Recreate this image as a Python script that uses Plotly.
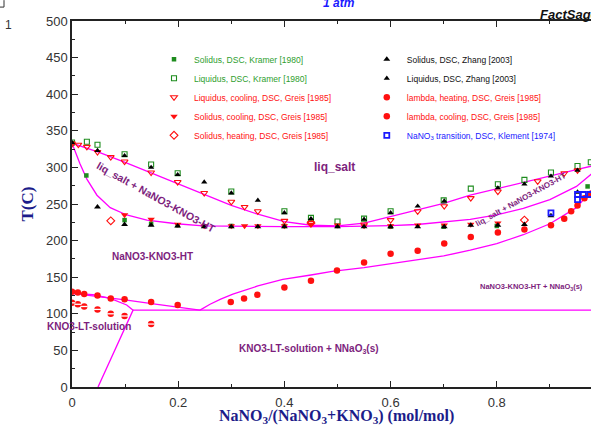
import plotly.graph_objects as go

# ---------------- data ----------------
# calculated phase boundaries (magenta lines)
liquidus_x = [0.0, 0.05, 0.1, 0.15, 0.2, 0.25, 0.3, 0.35, 0.4, 0.45, 0.5, 0.55, 0.6, 0.65, 0.7, 0.75, 0.8, 0.85, 0.9, 0.95, 0.98]
liquidus_T = [333, 321, 307, 292, 277, 262, 248, 236, 226, 221, 220, 224, 233, 242, 251, 262, 271, 280, 289, 297, 302]

solidus_x = [0.0, 0.015, 0.028, 0.047, 0.072, 0.103, 0.141, 0.197, 0.247, 0.3, 0.4, 0.5, 0.55, 0.6, 0.65, 0.7, 0.75, 0.8, 0.85, 0.9, 0.95, 0.98]
solidus_T = [333, 305, 284, 262, 245, 235, 228, 223, 220, 219.5, 219, 219, 219.5, 220.5, 222, 225, 229, 235, 244, 256, 274, 292]

solvus_x = [0.241, 0.26, 0.28, 0.303, 0.35, 0.397, 0.45, 0.49, 0.55, 0.6, 0.65, 0.7, 0.75, 0.8, 0.85, 0.9, 0.95, 0.98]
solvus_T = [105, 113, 120, 127, 138, 147, 153, 158, 163, 168, 173, 179, 187, 196, 208, 223, 245, 270]

kno3_ht_x = [0.0, 0.05, 0.1, 0.15, 0.2, 0.241]
kno3_ht_T = [128, 124, 119, 114, 109, 105]

kno3_lt_x = [0.0, 0.04, 0.072, 0.103, 0.115, 0.049]
kno3_lt_T = [128, 126, 121, 112, 105, 0]

eutectoid_x = [0.115, 0.98]
eutectoid_T = [105, 105]

# experimental points
kramer_sol_x = [0.0, 0.027, 0.099, 0.149, 0.199, 0.3, 0.4, 0.5, 0.6, 0.7, 0.8, 0.971]
kramer_sol_T = [333, 289, 228, 223, 221, 220, 220, 220, 219, 219, 220, 274]

kramer_liq_x = [0.0, 0.028, 0.048, 0.099, 0.149, 0.199, 0.3, 0.4, 0.45, 0.5, 0.55, 0.6, 0.7, 0.751, 0.802, 0.852, 0.902, 0.952, 0.977]
kramer_liq_T = [334, 335, 331, 318, 304, 292, 267, 240, 231, 226, 230, 240, 255, 271, 277, 283, 293, 302, 307]

greis_liq_cool_x = [0.0, 0.012, 0.028, 0.048, 0.073, 0.099, 0.149, 0.199, 0.249, 0.3, 0.325, 0.35, 0.4, 0.45, 0.55, 0.6, 0.651, 0.701, 0.751, 0.802, 0.877, 0.927, 0.952]
greis_liq_cool_T = [332, 331, 328, 321, 314, 308, 293, 280, 265, 253, 246, 240, 227, 224, 222, 228, 240, 247, 258, 267, 281, 292, 296]

greis_sol_cool_x = [0.0, 0.099, 0.149, 0.199, 0.249, 0.3, 0.325, 0.35, 0.4, 0.45, 0.5, 0.55, 0.6, 0.651, 0.701, 0.751, 0.802]
greis_sol_cool_T = [333, 235, 229, 222, 220, 220, 220, 220, 220, 222, 221, 220, 220, 221, 221, 222, 224]

greis_sol_heat_x = [0.073, 0.45, 0.852]
greis_sol_heat_T = [227, 224, 228]

zhang_sol_x = [0.048, 0.099, 0.149, 0.199, 0.249, 0.3, 0.35, 0.4, 0.5, 0.55, 0.6, 0.651, 0.701, 0.751, 0.802, 0.852, 0.902, 0.952]
zhang_sol_T = [246, 222, 221, 220, 219, 219, 219, 219, 219, 219, 219, 219, 219, 221, 221, 222, 234, 266]

zhang_liq_x = [0.0, 0.048, 0.099, 0.149, 0.199, 0.249, 0.3, 0.35, 0.4, 0.45, 0.55, 0.6, 0.651, 0.701, 0.802, 0.852, 0.902, 0.952]
zhang_liq_T = [334, 323, 316, 300, 290, 280, 265, 255, 238, 230, 229, 238, 247, 254, 272, 277, 288, 296]

lambda_heat_x = [0.0, 0.011, 0.023, 0.048, 0.073, 0.099, 0.149, 0.199, 0.299, 0.324, 0.349, 0.4, 0.45, 0.499, 0.55, 0.6, 0.651, 0.701, 0.751, 0.802, 0.852, 0.902, 0.927, 0.94, 0.952, 0.965, 0.977]
lambda_heat_T = [130, 129, 127, 125, 121, 120, 116, 112, 116, 121, 126, 136, 145, 159, 170, 182, 186, 196, 205, 211, 215, 221, 230, 240, 248, 258, 264]

lambda_cool_x = [0.0, 0.011, 0.023, 0.048, 0.073, 0.099, 0.149]
lambda_cool_T = [115, 113, 110, 106, 100, 97, 86]

klement_x = [0.902, 0.952, 0.952, 0.963, 0.975]
klement_T = [238, 256, 263, 263, 263]

x_ticks = [0, 0.2, 0.4, 0.6, 0.8]
x_tick_labels = ["0", "0.2", "0.4", "0.6", "0.8"]

# ---------------- figure ----------------
MAG = "#ff00ff"
GREEN = "#1e8c1e"
GREEN_T = "#2e9e2e"
RED = "#ff1010"
BLUE = "#1a1aff"
PURPLE = "#7d1e7d"
NAVY = "#1c1c8a"

fig = go.Figure()

for lx, ly in [(liquidus_x, liquidus_T), (solidus_x, solidus_T), (solvus_x, solvus_T),
               (kno3_ht_x, kno3_ht_T), (kno3_lt_x, kno3_lt_T), (eutectoid_x, eutectoid_T)]:
    fig.add_trace(go.Scatter(x=lx, y=ly, mode="lines", line=dict(color=MAG, width=1.3),
                             showlegend=False, hoverinfo="skip"))


def lbl(text, color):
    return "<span style='color:%s'>%s</span>" % (color, text)


def pts(x, y, name, symbol, color, size, legend, lw=1.1, lcolor=None, showlegend=True):
    fig.add_trace(go.Scatter(
        x=x, y=y, mode="markers", name=name, legend=legend, showlegend=showlegend,
        marker=dict(symbol=symbol, color=color, size=size,
                    line=dict(color=lcolor or color, width=lw))))


pts(kramer_sol_x, kramer_sol_T, lbl("Solidus, DSC, Kramer [1980]", GREEN_T), "square", GREEN, 4.5, "legend", lw=0)
pts(kramer_liq_x, kramer_liq_T, lbl("Liquidus, DSC, Kramer [1980]", GREEN_T), "square-open", GREEN, 5, "legend")
pts(greis_liq_cool_x, greis_liq_cool_T, lbl("Liquidus, cooling, DSC, Greis [1985]", RED), "triangle-down-open", RED, 6, "legend")
pts(greis_sol_cool_x, greis_sol_cool_T, lbl("Solidus, cooling, DSC, Greis [1985]", RED), "triangle-down", RED, 6.5, "legend", lw=0)
pts(greis_sol_heat_x, greis_sol_heat_T, lbl("Solidus, heating, DSC, Greis [1985]", RED), "diamond-open", RED, 6, "legend")

pts(zhang_sol_x, zhang_sol_T, lbl("Solidus, DSC, Zhang [2003]", "#111"), "triangle-up", "black", 6, "legend2", lw=0)
pts(zhang_liq_x, zhang_liq_T, lbl("Liquidus, DSC, Zhang [2003]", "#111"), "triangle-up", "black", 5.5, "legend2", lw=0)
pts(lambda_heat_x, lambda_heat_T, lbl("lambda, heating, DSC, Greis [1985]", RED), "circle", RED, 6.5, "legend2", lw=0)
pts(lambda_cool_x, lambda_cool_T, lbl("lambda, cooling, DSC, Greis [1985]", RED), "circle", RED, 6.5, "legend2", lw=0)
pts(lambda_cool_x, lambda_cool_T, "", "line-ew", "white", 5, "legend2", lw=1.3, lcolor="white", showlegend=False)
pts(klement_x, klement_T, lbl("NaNO<sub>3</sub> transition, DSC, Klement [1974]", BLUE), "square-open", BLUE, 5, "legend2", lw=1.8)

# region labels
def region(text, x, y, size, angle=0, xanchor="center"):
    fig.add_annotation(x=x, y=y, xref="x", yref="y", text="<b>%s</b>" % text, showarrow=False,
                       textangle=angle, xanchor=xanchor,
                       font=dict(family="Arial, Liberation Sans, sans-serif", size=size, color=PURPLE))


region("liq_salt", 0.495, 300, 12)
region("liq_salt + NaNO3-KNO3-HT", 0.158, 259, 10.5, angle=29)
region("liq_salt + NaNO3-KNO3-HT", 0.846, 256, 8, angle=-29)
region("NaNO3-KNO3-HT", 0.151, 178, 10)
region("NaNO3-KNO3-HT + NNaO<sub>3</sub>(s)", 0.765, 136, 7.5, xanchor="left")
region("KNO3-LT-solution", 0.032, 82, 10)
region("KNO3-LT-solution + NNaO<sub>3</sub>(s)", 0.447, 52, 10)

tickfont = dict(family="Arial, Liberation Sans, sans-serif", size=13, color="#333")
titlefont = dict(family="Liberation Serif, Times New Roman, serif", size=17, color=NAVY)

# x-axis title (placed below the tick labels)
fig.add_annotation(x=0.51, y=-0.081, xref="paper", yref="paper",
                   text="<b>NaNO<sub>3</sub>/(NaNO<sub>3</sub>+KNO<sub>3</sub>) (mol/mol)</b>",
                   showarrow=False, yanchor="middle",
                   font=dict(family="Liberation Serif, Times New Roman, serif", size=16, color=NAVY))

# header texts
fig.add_annotation(x=0.514, y=1.049, xref="paper", yref="paper", text="<b><i>1 atm</i></b>",
                   showarrow=False, yanchor="middle",
                   font=dict(family="Arial, Liberation Sans, sans-serif", size=12, color=BLUE))
fig.add_annotation(x=0.898, y=1.019, xref="paper", yref="paper", text="<b><i>FactSage</i></b>",
                   showarrow=False, xanchor="left", yanchor="middle",
                   font=dict(family="Arial, Liberation Sans, sans-serif", size=13, color="#111"))
fig.add_annotation(x=-0.133, y=0.989, xref="paper", yref="paper", text="1",
                   showarrow=False, yanchor="middle",
                   font=dict(family="Arial, Liberation Sans, sans-serif", size=12, color="#333"))
fig.add_shape(type="line", xref="paper", yref="paper", x0=-0.131, x1=-0.131, y0=1.057, y1=1.038,
              line=dict(color="#333", width=1))
fig.add_shape(type="line", xref="paper", yref="paper", x0=-0.139, x1=-0.131, y0=1.038, y1=1.038,
              line=dict(color="#333", width=1))

fig.update_layout(
    width=591, height=427,
    margin=dict(l=72, r=0, t=21, b=40),
    paper_bgcolor="white", plot_bgcolor="white",
    font=dict(family="Arial, Liberation Sans, sans-serif"),
    legend=dict(x=0.158, y=0.935, xanchor="left", yanchor="top", bgcolor="rgba(0,0,0,0)",
                font=dict(size=8.5), tracegroupgap=0, itemwidth=30),
    legend2=dict(x=0.568, y=0.935, xanchor="left", yanchor="top", bgcolor="rgba(0,0,0,0)",
                 font=dict(size=8.5), tracegroupgap=0, itemwidth=30),
    xaxis=dict(range=[0, 0.9774], showgrid=False, zeroline=False, showline=True,
               linecolor="#222", linewidth=1.5, mirror="ticks", ticks="inside", ticklen=6,
               tickcolor="#222", tickvals=x_ticks, ticktext=x_tick_labels, tickfont=tickfont,
               ticklabelstandoff=3,
               minor=dict(ticks="inside", ticklen=3, dtick=0.1, tick0=0, tickcolor="#222")),
    yaxis=dict(range=[0, 500], showgrid=False, zeroline=False, showline=True,
               linecolor="#222", linewidth=1.5, mirror=False, ticks="inside", ticklen=6,
               tickcolor="#222", dtick=50, tick0=0, tickfont=tickfont,
               minor=dict(ticks="inside", ticklen=3, dtick=25, tick0=0, tickcolor="#222"),
               title=dict(text="<b>T(C)</b>", font=titlefont, standoff=8)),
)

fig.write_html("out.html")
